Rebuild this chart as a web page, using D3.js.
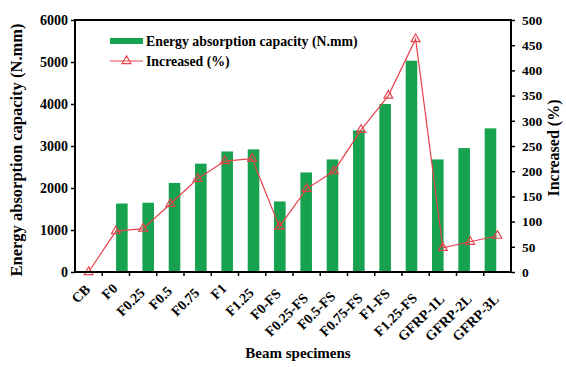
<!DOCTYPE html>
<html>
<head>
<meta charset="utf-8">
<script src="https://cdn.jsdelivr.net/npm/d3@7"></script>
<style>
  body { margin: 0; background: #fff; }
  text { font-family: "Liberation Serif", "Times New Roman", serif; font-weight: bold; }
</style>
</head>
<body>
<div id="chart"></div>
<script>
const categories = ["CB", "F0", "F0.25", "F0.5", "F0.75", "F1", "F1.25", "F0-FS", "F0.25-FS",
    "F0.5-FS", "F0.75-FS", "F1-FS", "F1.25-FS", "GFRP-1L", "GFRP-2L", "GFRP-3L"];
const energy = [0, 1630, 1650, 2120, 2580, 2870, 2920, 1680, 2370, 2680, 3370, 4000, 5030, 2680, 2950, 3420];
const increased = [0, 81, 86, 135, 185, 220, 225, 90, 165, 200, 282, 350, 462, 48, 60, 72];
const leftTicks = [0, 1000, 2000, 3000, 4000, 5000, 6000];
const rightTicks = [0, 50, 100, 150, 200, 250, 300, 350, 400, 450, 500];

const W = 566, H = 367;
const margin = {top: 20, right: 55, bottom: 95, left: 75};
const width = W - margin.left - margin.right;
const height = H - margin.top - margin.bottom;
const green = "#16a24e";
const red = "#e8434c";

const svg = d3.select("#chart").append("svg")
        .attr("width", W)
        .attr("height", H);
const g = svg.append("g")
        .attr("transform", `translate(${margin.left},${margin.top})`);

const x = d3.scaleBand().domain(categories).range([0, width]).padding(0.56);
const xc = d3.scaleBand().domain(categories).range([0, width]);
const yL = d3.scaleLinear().domain([0, 6000]).range([height, 0]);
const yR = d3.scaleLinear().domain([0, 500]).range([height, 0]);

// bars
g.selectAll(".bar")
        .data(categories)
        .enter().append("rect")
        .attr("class", "bar")
        .attr("x", d => x(d))
        .attr("width", x.bandwidth())
        .attr("y", (d, i) => yL(energy[i]))
        .attr("height", (d, i) => yL(0) - yL(energy[i]))
        .attr("fill", green);

// line
const cx = d => xc(d) + xc.bandwidth() / 2;
const line = d3.line()
        .x((d, i) => cx(categories[i]))
        .y(d => yR(d));
g.append("path")
        .datum(increased)
        .attr("d", line)
        .attr("fill", "none")
        .attr("stroke", red)
        .attr("stroke-width", 1.2);

const tri = d3.symbol().type(d3.symbolTriangle).size(34);
g.selectAll(".marker")
        .data(increased)
        .enter().append("path")
        .attr("class", "marker")
        .attr("d", tri)
        .attr("transform", (d, i) => `translate(${cx(categories[i])},${yR(d)})`)
        .attr("fill", "none")
        .attr("stroke", red)
        .attr("stroke-width", 1.2);

// x ticks on band boundaries
g.selectAll(".xtick")
        .data(categories.slice(1))
        .enter().append("line")
        .attr("x1", d => xc(d)).attr("x2", d => xc(d))
        .attr("y1", height).attr("y2", height + 4)
        .attr("stroke", "#000").attr("stroke-width", 1.5);

const xlabels = g.selectAll(".xlabel")
        .data(categories)
        .enter().append("text")
        .attr("class", "xlabel")
        .attr("text-anchor", "end")
        .attr("dy", "0.35em")
        .attr("font-size", 14)
        .text(d => d);
xlabels.attr("transform", function (d) {
    const len = this.getComputedTextLength();
    return `translate(${cx(d) - 1},${height + 10 + 0.25 * len}) rotate(-45)`;
});

const yAxisL = g.append("g")
        .call(d3.axisLeft(yL).tickValues(leftTicks).tickFormat(d3.format("d"))
                .tickSize(4).tickPadding(3).tickSizeOuter(0));
yAxisL.selectAll("text").attr("font-size", 14).attr("font-family", "Liberation Serif");
yAxisL.selectAll("line").attr("stroke-width", 1.5);
const yAxisR = g.append("g")
        .attr("transform", `translate(${width},0)`)
        .call(d3.axisRight(yR).tickValues(rightTicks).tickFormat(d3.format("d"))
                .tickSize(4).tickPadding(7).tickSizeOuter(0));
yAxisR.selectAll("text").attr("font-size", 13.5).attr("font-family", "Liberation Serif");
yAxisR.selectAll("line").attr("stroke-width", 1.5);

// frame
g.append("rect")
        .attr("width", width)
        .attr("height", height)
        .attr("fill", "none")
        .attr("stroke", "#000")
        .attr("stroke-width", 2);

// axis titles
svg.append("text")
        .attr("x", margin.left + width / 2 + 5)
        .attr("y", 358)
        .attr("text-anchor", "middle")
        .attr("font-size", 15)
        .text("Beam specimens");
svg.append("text")
        .attr("transform", `translate(22,150) rotate(-90)`)
        .attr("text-anchor", "middle")
        .attr("font-size", 16.5)
        .text("Energy absorption capacity (N.mm)");
svg.append("text")
        .attr("transform", `translate(559,148) rotate(-90)`)
        .attr("text-anchor", "middle")
        .attr("font-size", 16)
        .text("Increased (%)");

// legend
const legend = svg.append("g").attr("transform", "translate(110,41)");
legend.append("rect")
        .attr("x", 0).attr("y", -3)
        .attr("width", 33).attr("height", 6)
        .attr("fill", green);
legend.append("text")
        .attr("x", 36).attr("y", 0).attr("dy", "0.35em")
        .attr("font-size", 13.8)
        .text("Energy absorption capacity (N.mm)");
legend.append("line")
        .attr("x1", 0).attr("x2", 33).attr("y1", 20).attr("y2", 20)
        .attr("stroke", red).attr("stroke-width", 1.2);
legend.append("path")
        .attr("d", tri)
        .attr("transform", "translate(16.5,20)")
        .attr("fill", "none").attr("stroke", red).attr("stroke-width", 1.2);
legend.append("text")
        .attr("x", 36).attr("y", 20).attr("dy", "0.35em")
        .attr("font-size", 13.8)
        .text("Increased (%)");
</script>
</body>
</html>
